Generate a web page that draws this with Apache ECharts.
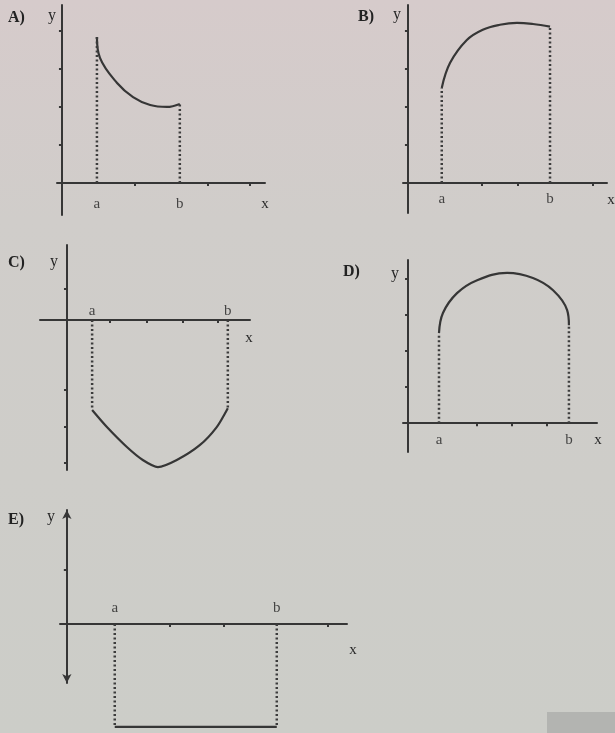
<!DOCTYPE html>
<html>
<head>
<meta charset="utf-8">
<script src="https://cdn.jsdelivr.net/npm/echarts@6/dist/echarts.min.js"></script>
<style>
  html, body { margin: 0; padding: 0; }
  #main { width: 615px; height: 733px; }
</style>
</head>
<body>
<div id="main"></div>
<script>
// curve points in axis units (1 unit = one tick step)
const curveAx = [0.92, 1.0, 1.45, 1.87, 2.32, 2.76, 3.1];
const curveAy = [3.84, 3.29, 2.63, 2.26, 2.05, 2.0, 2.08];
const curveBx = [0.89, 1.11, 1.55, 1.97, 2.42, 2.87, 3.29, 3.74];
const curveBy = [2.5, 3.16, 3.76, 4.03, 4.16, 4.21, 4.18, 4.11];
const curveCx = [0.68, 1.08, 1.62, 2.05, 2.46, 2.97, 3.59, 4.05, 4.35];
const curveCy = [-2.43, -2.89, -3.43, -3.78, -3.97, -3.78, -3.38, -2.89, -2.38];
const curveDx = [0.86, 0.97, 1.36, 1.92, 2.75, 3.47, 4.03, 4.42, 4.47];
const curveDy = [2.5, 3.06, 3.61, 3.97, 4.17, 4.03, 3.69, 3.14, 2.72];
const curveEx = [1.33, 5.83];
const curveEy = [-2.86, -2.86];

// small tick marks on the axes
const ticksAx = [1.92, 3.84, 4.95];
const ticksAy = [1, 2, 3, 4];
const ticksBx = [1.95, 2.89, 4.87];
const ticksBy = [1, 2, 3, 4];
const ticksCx = [1.16, 2.16, 3.14, 4.08];
const ticksCy = [0.86, -1.89, -2.89, -3.86];
const ticksDx = [1.92, 2.89, 3.86];
const ticksDy = [1, 2, 3, 4];
const ticksEx = [2.86, 4.36, 7.25];
const ticksEy = [1.5];

const panelNames = ['A)', 'B)', 'C)', 'D)', 'E)'];
const boundNames = ['a', 'b'];

// layout of each small plot
const panels = [
  {cx: curveAx, cy: curveAy, tx: ticksAx, ty: ticksAy, smooth: 0.4,
   grid: {left: 57, top: 5, width: 208, height: 210}, xr: [-0.13, 5.34], yr: [-0.84, 4.68],
   lpos: 'bottom', ldist: 14, title: [8, 18], ylab: [48, 16], xlab: [265, 204]},
  {cx: curveBx, cy: curveBy, tx: ticksBx, ty: ticksBy, smooth: 0.4,
   grid: {left: 403, top: 5, width: 204, height: 208}, xr: [-0.13, 5.24], yr: [-0.79, 4.68],
   lpos: 'bottom', ldist: 9, title: [358, 17], ylab: [393, 15], xlab: [611, 200]},
  {cx: curveCx, cy: curveCy, tx: ticksCx, ty: ticksCy, smooth: 0.25,
   grid: {left: 40, top: 245, width: 210, height: 225}, xr: [-0.73, 4.95], yr: [-4.05, 2.03],
   lpos: 'top', ldist: 2, title: [8, 263], ylab: [50, 262], xlab: [249, 338]},
  {cx: curveDx, cy: curveDy, tx: ticksDx, ty: ticksDy, smooth: 0.4,
   grid: {left: 403, top: 260, width: 194, height: 192}, xr: [-0.14, 5.25], yr: [-0.8, 4.53],
   lpos: 'bottom', ldist: 9, title: [343, 272], ylab: [391, 274], xlab: [598, 440]},
  {cx: curveEx, cy: curveEy, tx: ticksEx, ty: ticksEy, smooth: false,
   grid: {left: 60, top: 510, width: 287, height: 173}, xr: [-0.19, 7.78], yr: [-1.64, 3.17],
   lpos: 'top', ldist: 8, title: [8, 520], ylab: [47, 517], xlab: [353, 650], arrows: true}
];

const ink = '#363636';
const serif = '"Liberation Serif", "DejaVu Serif", serif';

const grids = [], xAxes = [], yAxes = [], series = [], graphics = [];

panels.forEach(function (p, i) {
  const a = p.cx[0], b = p.cx[p.cx.length - 1];
  const fa = p.cy[0], fb = p.cy[p.cy.length - 1];
  grids.push(p.grid);
  xAxes.push({
    type: 'value', gridIndex: i, min: p.xr[0], max: p.xr[1],
    splitLine: {show: false},
    axisLine: {onZero: true, lineStyle: {color: ink, width: 2}},
    axisTick: {customValues: p.tx, length: 3, lineStyle: {color: ink, width: 2}},
    axisLabel: {show: false}
  });
  yAxes.push({
    type: 'value', gridIndex: i, min: p.yr[0], max: p.yr[1],
    splitLine: {show: false},
    axisLine: {onZero: true, lineStyle: {color: ink, width: 2},
      symbol: p.arrows ? ['arrow', 'arrow'] : 'none', symbolSize: [7, 9]},
    axisTick: {customValues: p.ty, length: 3, lineStyle: {color: ink, width: 2}},
    axisLabel: {show: false}
  });
  // the curve
  series.push({
    type: 'line', xAxisIndex: i, yAxisIndex: i, clip: false,
    data: p.cx.map(function (x, k) { return [x, p.cy[k]]; }),
    smooth: p.smooth, symbol: 'none',
    lineStyle: {color: ink, width: 2.2}
  });
  // dotted drop lines at a and b
  [[a, fa], [b, fb]].forEach(function (pt) {
    series.push({
      type: 'line', xAxisIndex: i, yAxisIndex: i, clip: false, symbol: 'none',
      data: [[pt[0], 0], [pt[0], pt[1]]],
      lineStyle: {color: '#3c3c3c', width: 2.5, type: [2, 2.5]}
    });
  });
  // a / b labels next to the x axis
  series.push({
    type: 'scatter', xAxisIndex: i, yAxisIndex: i, clip: false, symbolSize: 0,
    data: [[a, 0], [b, 0]],
    label: {
      show: true, position: p.lpos, distance: p.ldist,
      formatter: function (d) { return boundNames[d.dataIndex]; },
      color: '#222', fontFamily: serif, fontSize: 15
    }
  });
  graphics.push(
    {type: 'text', x: p.title[0], y: p.title[1],
     style: {text: panelNames[i], font: 'bold 16px ' + serif, fill: '#222', textVerticalAlign: 'middle'}},
    {type: 'text', x: p.ylab[0], y: p.ylab[1],
     style: {text: 'y', font: '16px ' + serif, fill: '#262626', textVerticalAlign: 'middle'}},
    {type: 'text', x: p.xlab[0], y: p.xlab[1],
     style: {text: 'x', font: '15px ' + serif, fill: '#2a2a2a', textAlign: 'center', textVerticalAlign: 'middle'}}
  );
});

// scanner smudge in the lower right corner
graphics.push({type: 'rect', shape: {x: 547, y: 712, width: 68, height: 21}, style: {fill: '#b3b4b1'}});

const chart = echarts.init(document.getElementById('main'));
chart.setOption({
  animation: false,
  backgroundColor: {
    type: 'linear', x: 0, y: 0, x2: 0, y2: 1,
    colorStops: [
      {offset: 0, color: '#d6cbcb'},
      {offset: 0.3, color: '#d0cdca'},
      {offset: 1, color: '#cccdc8'}
    ]
  },
  grid: grids,
  xAxis: xAxes,
  yAxis: yAxes,
  series: series,
  graphic: graphics
});
</script>
</body>
</html>
